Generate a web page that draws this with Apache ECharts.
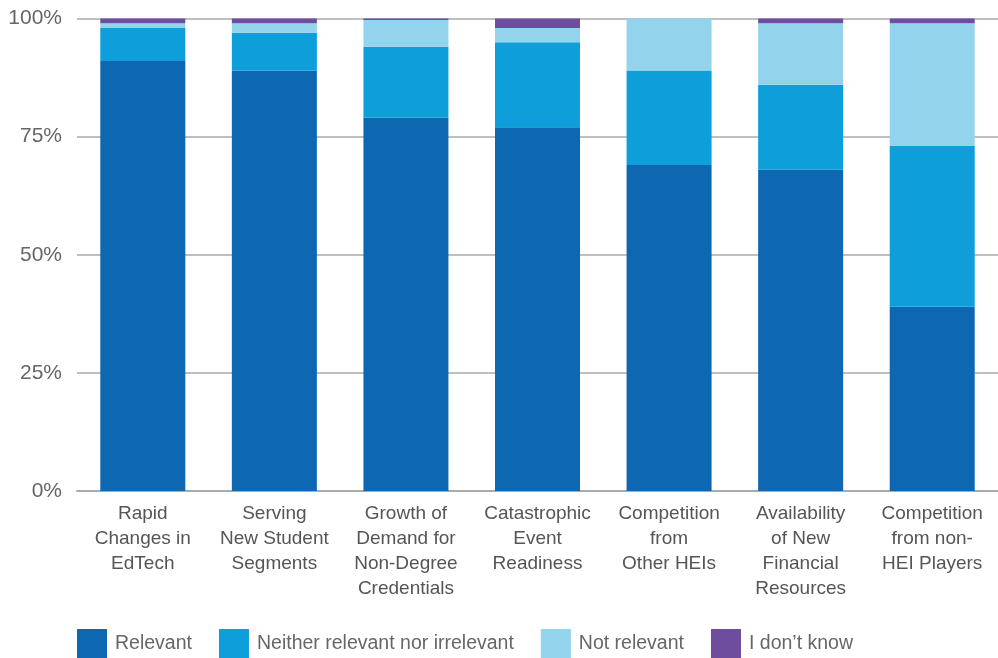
<!DOCTYPE html>
<html><head><meta charset="utf-8">
<script src="https://cdn.jsdelivr.net/npm/echarts@6/dist/echarts.min.js"></script>
<style>html,body{margin:0;padding:0;background:#fff}#c{width:998px;height:658px}</style>
</head><body><div id="c"></div>
<script>
const categories = ["Rapid\nChanges in\nEdTech","Serving\nNew Student\nSegments","Growth of\nDemand for\nNon-Degree\nCredentials","Catastrophic\nEvent\nReadiness","Competition\nfrom\nOther HEIs","Availability\nof New\nFinancial\nResources","Competition\nfrom non-\nHEI Players"];
const relevant = [91, 89, 79, 77, 69, 68, 39];
const neither = [7, 8, 15, 18, 20, 18, 34];
const notRelevant = [1, 2, 5.7, 3, 11, 13, 26];
const dontKnow = [1, 1, 0.3, 2, 0, 1, 1];
const seriesNames = ["Relevant","Neither relevant nor irrelevant","Not relevant","I don\u2019t know"];
const colors = ["#0D67B1","#0E9FDA","#93D3EB","#6E4C9E"];
const font = "'Liberation Sans', Arial, sans-serif";
const chart = echarts.init(document.getElementById('c'), null, {renderer:'canvas'});
const data = [relevant, neither, notRelevant, dontKnow];
chart.setOption({
  animation:false,
  textStyle:{fontFamily:font},
  grid:{left:77, width:926, top:18.5, bottom:167, containLabel:false},
  legend:{
    left:77, top:629, padding:0, itemWidth:30, itemHeight:29, itemGap:27,
    icon:'rect',
    textStyle:{fontFamily:font, fontSize:19.5, color:'#666', padding:[0,0,0,3]},
    data:seriesNames
  },
  xAxis:{type:'category', data:categories,
    axisLine:{show:true, lineStyle:{color:'#aaa', width:2}},
    axisTick:{show:false},
    axisLabel:{fontFamily:font, fontSize:19, color:'#555', lineHeight:25, margin:10, interval:0}
  },
  yAxis:{type:'value', min:0, max:100, interval:25,
    axisLine:{show:false}, axisTick:{show:false},
    splitLine:{lineStyle:{color:'#aaa', width:1.5}},
    axisLabel:{fontFamily:font, fontSize:21, color:'#666', margin:15, formatter:v=>v+'%'}
  },
  series: seriesNames.map((n,i)=>({
    name:n, type:'bar', stack:'s', data:data[i], barWidth:85,
    itemStyle:{color:colors[i]}
  }))
});
</script></body></html>
